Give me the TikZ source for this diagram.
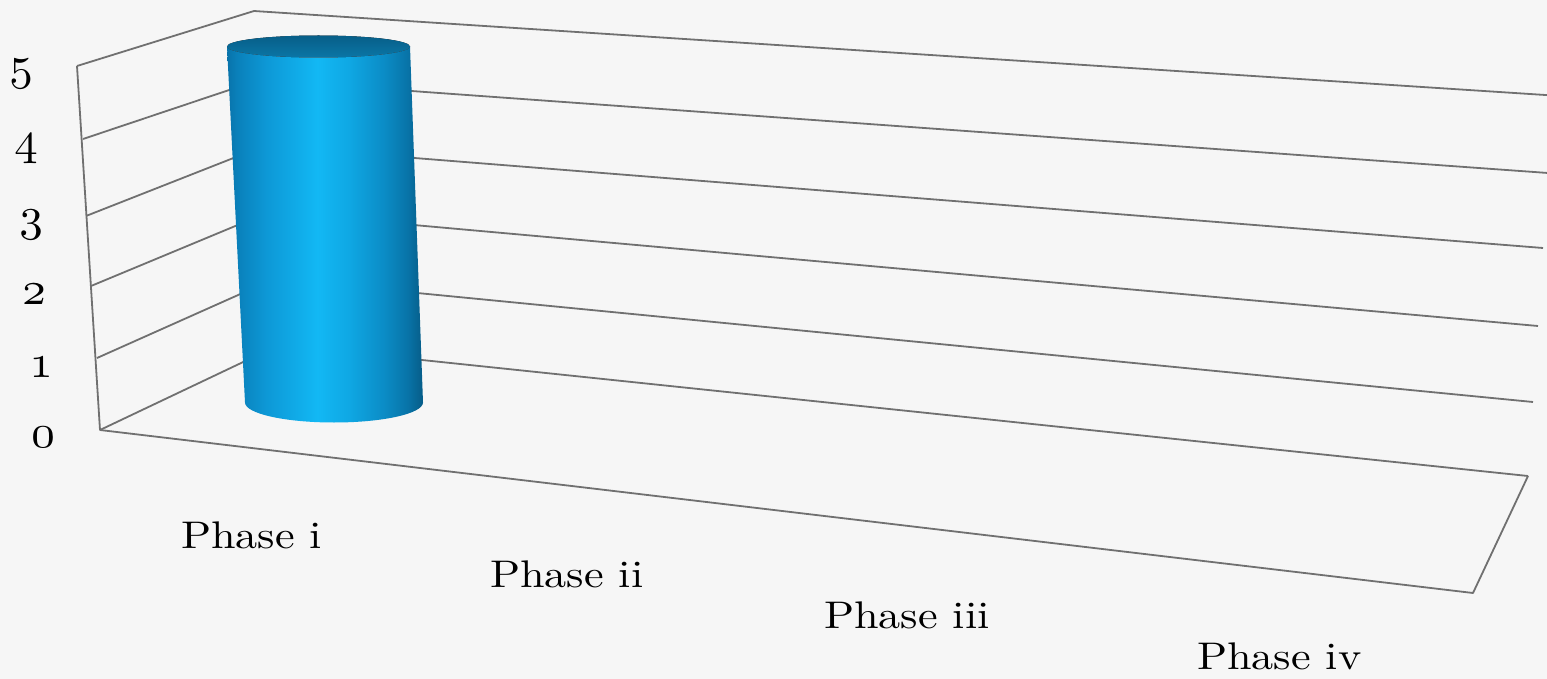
\documentclass[tikz,border=0pt]{standalone}
\usepackage{graphicx}
\definecolor{bg}{HTML}{F6F6F6}
\definecolor{gridc}{HTML}{707070}
\definecolor{cA}{HTML}{0873AA}
\definecolor{cB}{HTML}{0A80BA}
\definecolor{cC}{HTML}{0D98D6}
\definecolor{cD}{HTML}{12B8F4}
\definecolor{cE}{HTML}{0FA8E4}
\definecolor{cF}{HTML}{0B8CC6}
\definecolor{cG}{HTML}{0874A8}
\definecolor{cH}{HTML}{065C88}
\definecolor{topA}{HTML}{075E88}
\definecolor{topB}{HTML}{0B76A6}
\pgfdeclarehorizontalshading{cylshade}{100bp}{color(0bp)=(cA); color(25bp)=(cA); color(27.5bp)=(cB); color(35bp)=(cC); color(48bp)=(cD); color(56bp)=(cE); color(65bp)=(cF); color(71bp)=(cG); color(75bp)=(cH); color(100bp)=(cH)}
\newcommand{\osn}[1]{\scalebox{4.7}{\usefont{OML}{cmm}{m}{it}#1}}
\newcommand{\phl}[1]{\scalebox{4.42}[3.85]{\fontsize{10}{12}\selectfont #1}}
\begin{document}
\begin{tikzpicture}[x=1pt,y=-1pt,
  gridline/.style={draw=gridc, line width=1.8pt, line join=round},
  ylab/.style={anchor=base east, inner sep=0pt},
  xlab/.style={anchor=base west, inner sep=0pt}]
\path[use as bounding box, fill=bg] (0,0) rectangle (1547,679);
% front edge of the left wall
\coordinate (F5) at (77,66);
\coordinate (F4) at (83,139);
\coordinate (F3) at (86,216);
\coordinate (F2) at (91,286);
\coordinate (F1) at (97,358);
\coordinate (F0) at (100,430);
% back edge (hidden by the cylinder)
\coordinate (B5) at (254,11);
\coordinate (B4) at (259,80);
\coordinate (B3) at (264,146);
\coordinate (B2) at (269,212);
\coordinate (B1) at (274,279);
\coordinate (B0) at (279,345);
% right ends
\coordinate (R5) at (1553,95.5);
\coordinate (R4) at (1548,173);
\coordinate (R3) at (1543,248);
\coordinate (R2) at (1538,326);
\coordinate (R1) at (1533,402);
\coordinate (R0) at (1528,476);
\coordinate (FR) at (1473,593);
% walls and floor
\draw[gridline] (F5) -- (F0) -- (FR) -- (R0);
\foreach \k in {0,...,5}{\draw[gridline] (F\k) -- (B\k) -- (R\k);}
% cylinder
\path[shading=cylshade] (227,46.5) -- (245,402.5)
  arc[start angle=180, end angle=0, x radius=89, y radius=20]
  -- (410,46.5)
  arc[start angle=0, end angle=180, x radius=91.5, y radius=11] -- cycle;
\fill[top color=topA, bottom color=topB] (318.5,46.5) ellipse [x radius=91.5, y radius=11];
% value axis labels
\node[ylab] (y5) at (33,80) {\osn{5}};
\node[ylab] (y4) at (38,155) {\osn{4}};
\node[ylab] (y3) at (43,230) {\osn{3}};
\node[ylab] (y2) at (46,304) {\osn{2}};
\node[ylab] (y1) at (53,377) {\osn{1}};
\node[ylab] (y0) at (55,447) {\osn{0}};
% category labels
\node[xlab] (p1) at (181,548) {\phl{Phase i}};
\node[xlab] (p2) at (490,587) {\phl{Phase ii}};
\node[xlab] (p3) at (824,628) {\phl{Phase iii}};
\node[xlab] (p4) at (1197,669) {\phl{Phase iv}};
\end{tikzpicture}
\end{document}
